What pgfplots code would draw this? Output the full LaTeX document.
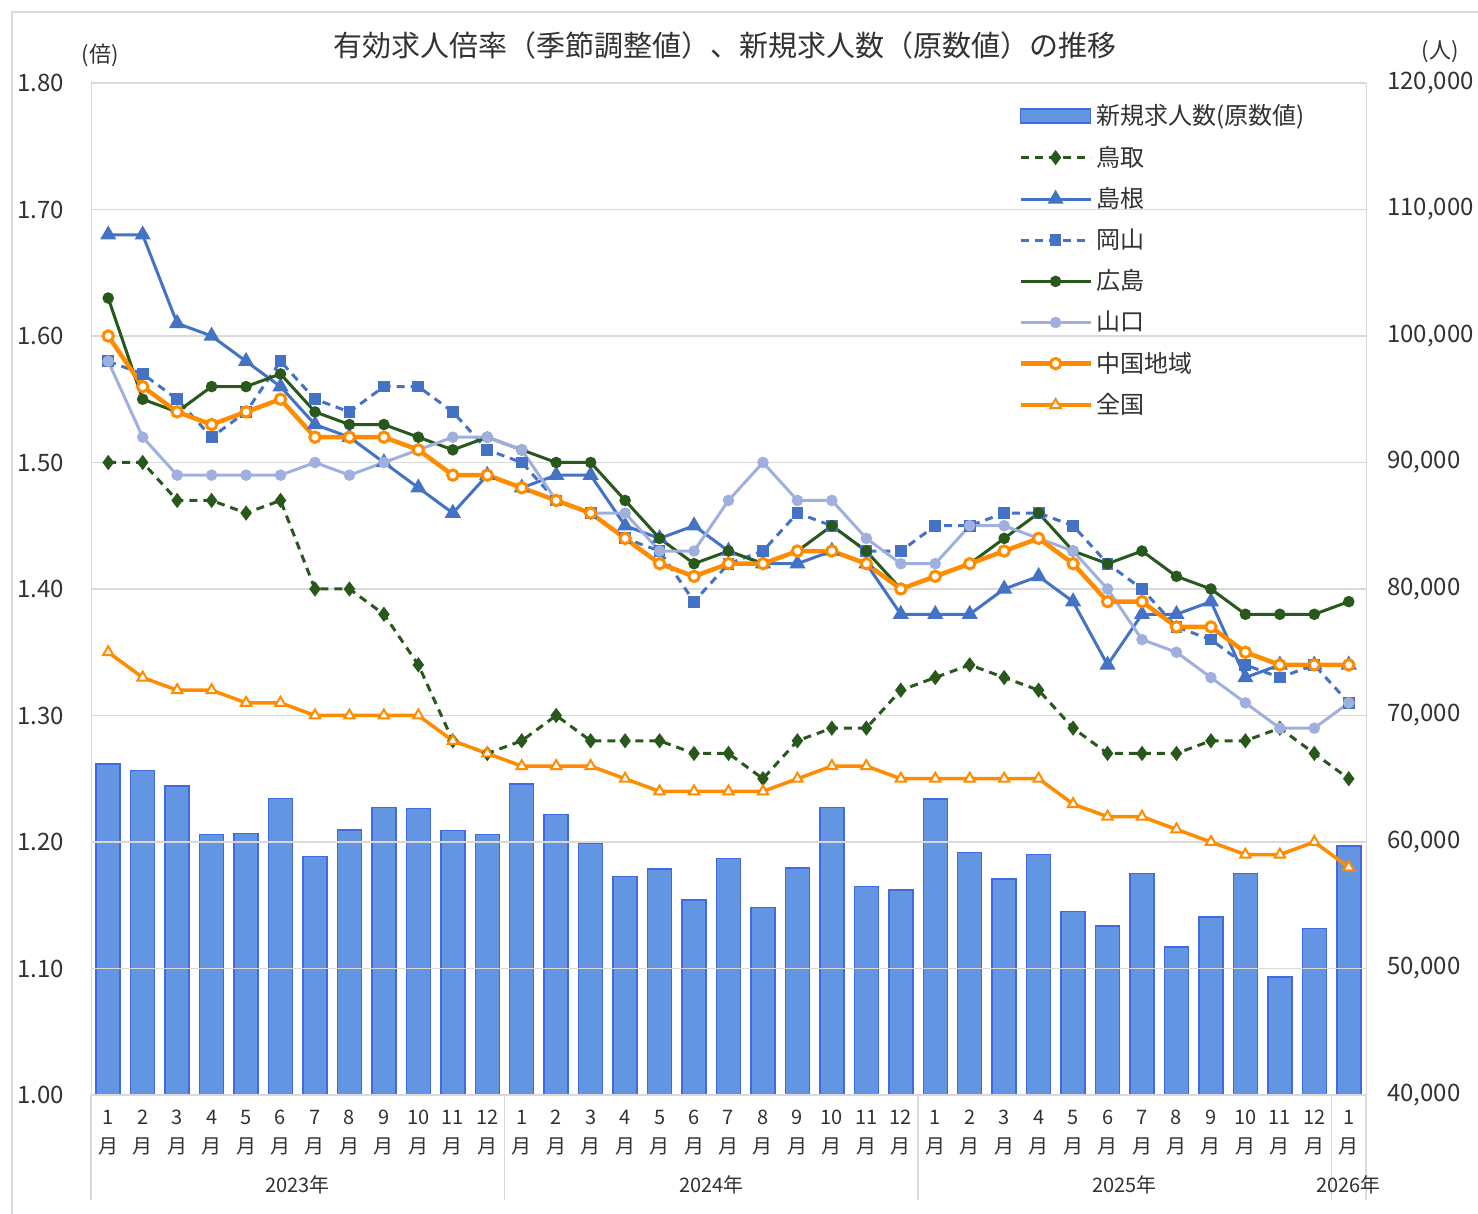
\documentclass[border=0pt]{standalone}
\usepackage{fontspec}
\setmainfont{Noto Sans CJK JP}
\usepackage{pgfplots}
\pgfplotsset{compat=1.18}
\usepackage{pgfplotstable}

\definecolor{tgreen}{RGB}{40,88,28}
\definecolor{tblue}{RGB}{68,114,196}
\definecolor{tlight}{RGB}{160,176,222}
\definecolor{torange}{RGB}{255,140,0}
\definecolor{barfill}{RGB}{100,149,226}
\definecolor{baredge}{RGB}{65,105,225}
\definecolor{gridc}{RGB}{217,217,217}
\definecolor{txt}{RGB}{50,50,50}

\pgfplotsset{
  mylinelegend/.style={legend image code/.code={\draw[mark repeat=2,mark phase=2,##1] plot coordinates {(0pt,0pt) (17.5pt,0pt) (35pt,0pt)};}},
  mybarlegend/.style={legend image code/.code={\draw[##1] (0pt,-3.5pt) rectangle (35pt,3.5pt);}},
}

\pgfplotstableread{
x tottori shimane okayama hiroshima yamaguchi chugoku zenkoku
0  1.50 1.68 1.58 1.63 1.58 1.60 1.35
1  1.50 1.68 1.57 1.55 1.52 1.56 1.33
2  1.47 1.61 1.55 1.54 1.49 1.54 1.32
3  1.47 1.60 1.52 1.56 1.49 1.53 1.32
4  1.46 1.58 1.54 1.56 1.49 1.54 1.31
5  1.47 1.56 1.58 1.57 1.49 1.55 1.31
6  1.40 1.53 1.55 1.54 1.50 1.52 1.30
7  1.40 1.52 1.54 1.53 1.49 1.52 1.30
8  1.38 1.50 1.56 1.53 1.50 1.52 1.30
9  1.34 1.48 1.56 1.52 1.51 1.51 1.30
10 1.28 1.46 1.54 1.51 1.52 1.49 1.28
11 1.27 1.49 1.51 1.52 1.52 1.49 1.27
12 1.28 1.48 1.50 1.51 1.51 1.48 1.26
13 1.30 1.49 1.47 1.50 1.47 1.47 1.26
14 1.28 1.49 1.46 1.50 1.46 1.46 1.26
15 1.28 1.45 1.44 1.47 1.46 1.44 1.25
16 1.28 1.44 1.43 1.44 1.43 1.42 1.24
17 1.27 1.45 1.39 1.42 1.43 1.41 1.24
18 1.27 1.43 1.42 1.43 1.47 1.42 1.24
19 1.25 1.42 1.43 1.42 1.50 1.42 1.24
20 1.28 1.42 1.46 1.43 1.47 1.43 1.25
21 1.29 1.43 1.45 1.45 1.47 1.43 1.26
22 1.29 1.42 1.43 1.43 1.44 1.42 1.26
23 1.32 1.38 1.43 1.40 1.42 1.40 1.25
24 1.33 1.38 1.45 1.41 1.42 1.41 1.25
25 1.34 1.38 1.45 1.42 1.45 1.42 1.25
26 1.33 1.40 1.46 1.44 1.45 1.43 1.25
27 1.32 1.41 1.46 1.46 1.44 1.44 1.25
28 1.29 1.39 1.45 1.43 1.43 1.42 1.23
29 1.27 1.34 1.42 1.42 1.40 1.39 1.22
30 1.27 1.38 1.40 1.43 1.36 1.39 1.22
31 1.27 1.38 1.37 1.41 1.35 1.37 1.21
32 1.28 1.39 1.36 1.40 1.33 1.37 1.20
33 1.28 1.33 1.34 1.38 1.31 1.35 1.19
34 1.29 1.34 1.33 1.38 1.29 1.34 1.19
35 1.27 1.34 1.34 1.38 1.29 1.34 1.20
36 1.25 1.34 1.31 1.39 1.31 1.34 1.18
}\lines

\pgfplotstableread{
x n
0  66170
1  65640
2  64430
3  60580
4  60690
5  63420
6  58840
7  60950
8  62740
9  62640
10 60900
11 60580
12 64590
13 62160
14 59900
15 57260
16 57870
17 55420
18 58710
19 54810
20 57950
21 62740
22 56470
23 56210
24 63400
25 59160
26 57080
27 59030
28 54500
29 53360
30 57520
31 51680
32 54070
33 57520
34 49330
35 53150
36 59690
}\bars

\begin{document}
\begin{tikzpicture}
\useasboundingbox (0,0) rectangle (739pt,607pt);
\draw[gridc, line width=0.6pt] (6pt,0pt) -- (6pt,601pt) -- (739pt,601pt);

% bars on right axis
\begin{axis}[
  at={(45.5pt,59.5pt)}, anchor=south west,
  scale only axis, width=637.5pt, height=506pt,
  xmin=-0.5, xmax=36.5, ymin=40000, ymax=120000,
  axis x line=none,
  axis y line*=right,
  y axis line style={draw=gridc},
  ytick={40000,50000,60000,70000,80000,90000,100000,110000,120000},
  scaled y ticks=false,
  major tick length=0pt,
  yticklabel style={font=\fontsize{12}{14}\selectfont, text=txt, xshift=7pt,
    /pgf/number format/.cd, fixed, precision=0, 1000 sep={,}, assume math mode=true},
  ybar, bar width=12pt,
]
\addplot[fill=barfill, draw=baredge, line width=0.75pt] table[x=x,y=n]{\bars};
\end{axis}

% lines on left axis
\begin{axis}[
  at={(45.5pt,59.5pt)}, anchor=south west,
  scale only axis, width=637.5pt, height=506pt,
  xmin=-0.5, xmax=36.5, ymin=1, ymax=1.8,
  clip=false,
  axis line style={draw=gridc},
  ymajorgrids, grid style={gridc, line width=0.6pt},
  major tick length=0pt,
  ytick={1,1.1,1.2,1.3,1.4,1.5,1.6,1.7,1.8},
  yticklabel style={font=\fontsize{12}{14}\selectfont, text=txt, xshift=-10pt,
    /pgf/number format/.cd, fixed, fixed zerofill, precision=2, assume math mode=true},
  xtick={0,...,36},
  xticklabels={{1\\月},{2\\月},{3\\月},{4\\月},{5\\月},{6\\月},{7\\月},{8\\月},{9\\月},{10\\月},{11\\月},{12\\月},
               {1\\月},{2\\月},{3\\月},{4\\月},{5\\月},{6\\月},{7\\月},{8\\月},{9\\月},{10\\月},{11\\月},{12\\月},
               {1\\月},{2\\月},{3\\月},{4\\月},{5\\月},{6\\月},{7\\月},{8\\月},{9\\月},{10\\月},{11\\月},{12\\月},
               {1\\月}},
  xticklabel style={align=center, font=\fontsize{10}{14.5}\selectfont, text=txt, yshift=-4pt},
  mylinelegend,
  legend style={at={(0.7223,0.987)}, anchor=north west, draw=none, fill=none,
    font=\fontsize{12}{14}\selectfont, text=txt, row sep=5.1pt},
  legend cell align=left,
]
\addlegendimage{fill=barfill, draw=baredge, line width=0.75pt, mybarlegend}
\addlegendentry{新規求人数(原数値)}
\addplot[tgreen, line width=1.5pt, dash pattern=on 4pt off 3pt, mark=diamond*, mark size=2.6pt, mark options={solid}] table[x=x,y=tottori]{\lines};
\addlegendentry{鳥取}
\addplot[tblue, line width=1.5pt, mark=triangle*, mark size=3.2pt, mark options={solid}] table[x=x,y=shimane]{\lines};
\addlegendentry{島根}
\addplot[tblue, line width=1.5pt, dash pattern=on 4pt off 3pt, mark=square*, mark size=2.2pt, mark options={solid}] table[x=x,y=okayama]{\lines};
\addlegendentry{岡山}
\addplot[tgreen, line width=1.5pt, mark=*, mark size=2.1pt] table[x=x,y=hiroshima]{\lines};
\addlegendentry{広島}
\addplot[tlight, line width=1.5pt, mark=*, mark size=2.1pt] table[x=x,y=yamaguchi]{\lines};
\addlegendentry{山口}
\addplot[torange, line width=2.25pt, mark=*, mark size=2.6pt, mark options={fill=white, line width=1.5pt}] table[x=x,y=chugoku]{\lines};
\addlegendentry{中国地域}
\addplot[torange, line width=1.75pt, mark=triangle*, mark size=3pt, mark options={fill=white, line width=1pt}] table[x=x,y=zenkoku]{\lines};
\addlegendentry{全国}

\draw[gridc, line width=0.6pt] (axis cs:-0.5,1) -- ++(0pt,-52.5pt);
\draw[gridc, line width=0.6pt] (axis cs:11.5,1) -- ++(0pt,-52.5pt);
\draw[gridc, line width=0.6pt] (axis cs:23.5,1) -- ++(0pt,-52.5pt);
\draw[gridc, line width=0.6pt] (axis cs:35.5,1) -- ++(0pt,-52.5pt);
\draw[gridc, line width=0.6pt] (axis cs:36.5,1) -- ++(0pt,-52.5pt);
\node[font=\fontsize{10}{12}\selectfont, text=txt] at (axis cs:5.5,1) [yshift=-45pt] {2023年};
\node[font=\fontsize{10}{12}\selectfont, text=txt] at (axis cs:17.5,1) [yshift=-45pt] {2024年};
\node[font=\fontsize{10}{12}\selectfont, text=txt] at (axis cs:29.5,1) [yshift=-45pt] {2025年};
\node[font=\fontsize{10}{12}\selectfont, text=txt] at (axis cs:36,1) [yshift=-45pt] {2026年};
\end{axis}

\node[font=\fontsize{14.5}{17}\selectfont, text=txt] at (362.5pt,584.5pt) {有効求人倍率（季節調整値）、新規求人数（原数値）の推移};
\node[font=\fontsize{11}{13}\selectfont, text=txt] at (50pt,579.5pt) {(倍)};
\node[font=\fontsize{11}{13}\selectfont, text=txt] at (720pt,581pt) {(人)};
\end{tikzpicture}
\end{document}
